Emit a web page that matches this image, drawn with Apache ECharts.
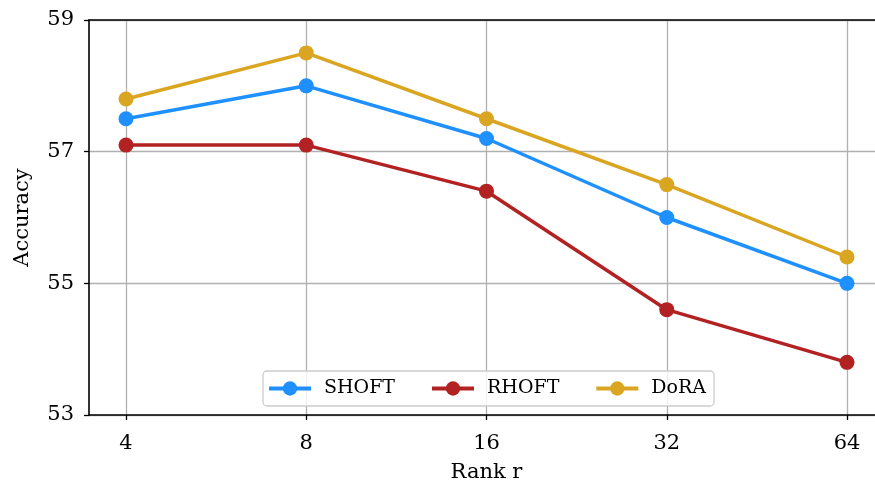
<!DOCTYPE html>
<html><head><meta charset="utf-8">
<script src="https://cdn.jsdelivr.net/npm/echarts@6/dist/echarts.min.js"></script>
<style>html,body{margin:0;padding:0;background:#fff}#c{width:875px;height:484px}</style>
</head><body><div id="c"></div>
<script>
const categories = ['4', '8', '16', '32', '64'];
const shoft = [57.5, 58.0, 57.2, 56.0, 55.0];
const rhoft = [57.1, 57.1, 56.4, 54.6, 53.8];
const dora = [57.8, 58.5, 57.5, 56.5, 55.4];
const yTicks = [53, 55, 57, 59];
const seriesNames = ['SHOFT', 'RHOFT', 'DoRA'];

const FONT = 'DejaVu Serif';
const chart = echarts.init(document.getElementById('c'), null, {renderer: 'canvas'});
const mk = (name, data, color) => ({
  name, type: 'line', data, xAxisIndex: 0, yAxisIndex: 0,
  symbol: 'circle', symbolSize: 15,
  lineStyle: {color, width: 3.5}, itemStyle: {color},
  emphasis: {disabled: true}, animation: false, z: 5
});
chart.setOption({
  animation: false,
  textStyle: {fontFamily: FONT},
  grid: [
    {left: 126, width: 721, top: 20, height: 395, containLabel: false, outerBoundsMode: 'none'},
    {left: 89, width: 794, top: 20, height: 395, containLabel: false, outerBoundsMode: 'none'}
  ],
  xAxis: [
    {type: 'category', gridIndex: 0, data: categories, boundaryGap: false,
     axisLine: {show: false},
     axisTick: {show: true, length: 5, inside: false, lineStyle: {color: '#000', width: 1.3}},
     axisLabel: {fontFamily: FONT, fontSize: 21, color: '#000', margin: 18},
     splitLine: {show: true, lineStyle: {color: '#b0b0b0', width: 1.3}},
     name: 'Rank r', nameLocation: 'middle', nameGap: 47,
     nameTextStyle: {fontFamily: FONT, fontSize: 21, color: '#000'}},
    {type: 'value', gridIndex: 1, min: 0, max: 1, position: 'bottom',
     axisLine: {show: true, lineStyle: {color: '#000', width: 1.6}},
     axisTick: {show: false}, axisLabel: {show: false}, splitLine: {show: false}},
    {type: 'value', gridIndex: 1, min: 0, max: 1, position: 'top',
     axisLine: {show: true, lineStyle: {color: '#000', width: 1.6}},
     axisTick: {show: false}, axisLabel: {show: false}, splitLine: {show: false}}
  ],
  yAxis: [
    {type: 'value', gridIndex: 0, min: yTicks[0], max: yTicks[yTicks.length - 1], show: false},
    {type: 'value', gridIndex: 1, min: yTicks[0], max: yTicks[yTicks.length - 1], interval: 2,
     axisLine: {show: true, lineStyle: {color: '#000', width: 1.6}},
     axisTick: {show: true, length: 5, lineStyle: {color: '#000', width: 1.3}},
     axisLabel: {fontFamily: FONT, fontSize: 21, color: '#000', margin: 15},
     splitLine: {show: true, lineStyle: {color: '#b0b0b0', width: 1.3}},
     name: 'Accuracy', nameLocation: 'middle', nameGap: 56, nameRotate: 90,
     nameTextStyle: {fontFamily: FONT, fontSize: 21, color: '#000'}}
  ],
  legend: {
    left: 263, top: 371, orient: 'horizontal',
    itemWidth: 42, itemHeight: 18, itemGap: 35,
    padding: [8, 8, 8, 4],
    backgroundColor: 'rgba(255,255,255,0.8)',
    borderColor: '#cccccc', borderWidth: 1.3, borderRadius: 4,
    lineStyle: {width: 4},
    textStyle: {fontFamily: FONT, fontSize: 19, color: '#000', padding: [0, 0, 0, 8]},
    data: seriesNames.map(n => ({name: n, lineStyle: {width: 4}}))
  },
  series: [
    mk(seriesNames[0], shoft, '#1E90FF'),
    mk(seriesNames[1], rhoft, '#B22222'),
    mk(seriesNames[2], dora, '#DAA520')
  ]
});
</script></body></html>
